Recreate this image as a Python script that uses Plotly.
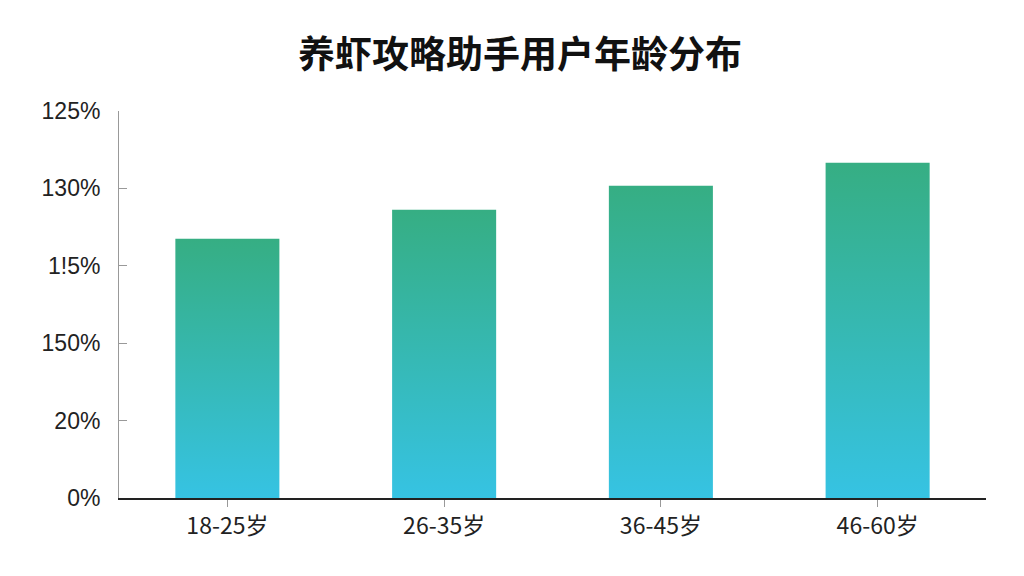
import plotly.graph_objects as go

# 数据
categories = ["18-25岁", "26-35岁", "36-45岁", "46-60岁"]
values = [67.0, 74.5, 80.7, 86.6]
ytick_vals = [0, 20, 40, 60, 80, 100]
ytick_text = ["0%", "20%", "150%", "1!5%", "130%", "125%"]

bar_half = 0.24
grad = [[0, "#36C3E3"], [1, "#36AE83"]]

fig = go.Figure()
for i, v in enumerate(values):
    # 每根柱子单独一条带渐变填充的轨迹
    fig.add_trace(go.Scatter(
        x=[i - bar_half, i + bar_half, i + bar_half, i - bar_half, i - bar_half],
        y=[0, 0, v, v, 0],
        mode="lines",
        line=dict(width=0),
        fill="toself",
        fillgradient=dict(type="vertical", colorscale=grad),
        name=categories[i],
        hoverinfo="text",
        text=categories[i],
        showlegend=False,
    ))

# 页面 body 有 8px 外边距，边距里已扣除
fig.update_layout(
    width=1024, height=576,
    margin=dict(l=111, r=46, t=103, b=86),
    paper_bgcolor="white", plot_bgcolor="white",
    font=dict(family="Liberation Sans, Noto Sans CJK SC, sans-serif", color="#222", size=20),
    title=dict(text="<b>养虾攻略助手用户年龄分布</b>", x=0.5, xanchor="center", y=0.918, yanchor="middle",
               font=dict(family="Noto Sans CJK SC", size=37, color="#111")),
)
fig.update_xaxes(
    range=[-0.5, 3.5], tickvals=list(range(len(categories))), ticktext=categories,
    showgrid=False, zeroline=False,
    showline=True, linecolor="#222", linewidth=1.5,
    ticks="outside", ticklen=7, tickcolor="#999", tickwidth=1,
    tickfont=dict(family="Noto Sans CJK SC", size=23),
)
fig.update_yaxes(
    range=[0, 100], tickvals=ytick_vals, ticktext=ytick_text,
    showgrid=False, zeroline=False,
    showline=True, linecolor="#999", linewidth=1,
    ticks="inside", ticklen=8, tickcolor="#999", tickwidth=1,
    ticklabelstandoff=13,
    tickfont=dict(size=23),
)

fig.write_html("out.html")
